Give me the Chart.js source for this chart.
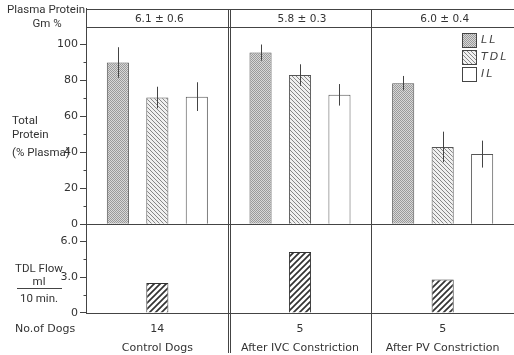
<!DOCTYPE html>
<html>
<head>
<meta charset="utf-8">
<script src="https://cdn.jsdelivr.net/npm/chart.js@4"></script>
<style>
  html, body { margin: 0; padding: 0; background: #fff; overflow: hidden; }
</style>
</head>
<body>
<canvas id="chart" width="514" height="355"></canvas>
<script>
// Data
const groups = ["Control Dogs", "After IVC Constriction", "After PV Constriction"];
const dogCounts = ["14", "5", "5"];
const plasmaProtein = ["6.1 ± 0.6", "5.8 ± 0.3", "6.0 ± 0.4"];

const llProtein = [90, 95.5, 78.5];
const llErr = [8.5, 4.5, 4];
const tdlProtein = [70.5, 83, 43];
const tdlErr = [6, 6, 8.5];
const ilProtein = [71, 72, 39];
const ilErr = [8, 6, 7.5];

const tdlFlow = [2.5, 5.1, 2.8];

const proteinTicks = [0, 10, 20, 30, 40, 50, 60, 70, 80, 90, 100];
const proteinLabelled = [0, 20, 40, 60, 80, 100];
const flowTicks = [0, 1.5, 3.0, 4.5, 6.0];
const flowLabelled = [0, 3.0, 6.0];

const proteinMax = 120;   // axis runs up through the plasma protein header band
const headerFloor = 109.5;
const flowMax = 7.42;

const ink = "#444";
const clear = "rgba(0,0,0,0)";
const tickFont = { family: "DejaVu Sans", size: 11 };

const canvas = document.getElementById("chart");
const ctx = canvas.getContext("2d");

// fill patterns
function makePattern(size, draw) {
  const c = document.createElement("canvas");
  c.width = size;
  c.height = size;
  draw(c.getContext("2d"), size);
  return ctx.createPattern(c, "repeat");
}

const llFill = makePattern(2, (g) => {
  g.fillStyle = "#d8d8d8";
  g.fillRect(0, 0, 2, 2);
  g.fillStyle = "#9a9a9a";
  g.fillRect(0, 0, 1, 1);
  g.fillRect(1, 1, 1, 1);
});

const tdlFill = makePattern(4, (g, s) => {
  g.fillStyle = "#f0f0f0";
  g.fillRect(0, 0, s, s);
  g.strokeStyle = "#7a7a7a";
  g.lineWidth = 0.9;
  g.beginPath();
  g.moveTo(-1, -1); g.lineTo(s + 1, s + 1);
  g.moveTo(-1, s - 1); g.lineTo(1, s + 1);
  g.moveTo(s - 1, -1); g.lineTo(s + 1, 1);
  g.stroke();
});

const flowFill = makePattern(6, (g, s) => {
  g.fillStyle = "#fff";
  g.fillRect(0, 0, s, s);
  g.strokeStyle = "#333";
  g.lineWidth = 1.7;
  g.beginPath();
  g.moveTo(-1, s + 1); g.lineTo(s + 1, -1);
  g.moveTo(-1, 1); g.lineTo(1, -1);
  g.moveTo(s - 1, s + 1); g.lineTo(s + 1, s - 1);
  g.stroke();
});

const legendItems = [
  { text: "LL", fill: llFill },
  { text: "TDL", fill: tdlFill },
  { text: "IL", fill: "#fff" },
];

// error bars, header band, panel separators, minor ticks, legend and side labels
const overlay = {
  id: "overlay",
  afterDatasetsDraw(chart) {
    const { ctx, chartArea, scales } = chart;
    const x = scales.x;
    const y = scales.y;
    const right = chart.width;
    ctx.save();
    ctx.strokeStyle = ink;
    ctx.lineWidth = 1;

    // error bars
    [llErr, tdlErr, ilErr].forEach((errs, d) => {
      const meta = chart.getDatasetMeta(d);
      const vals = chart.data.datasets[d].data;
      meta.data.forEach((bar, i) => {
        const px = Math.round(bar.x) + 0.5;
        ctx.beginPath();
        ctx.moveTo(px, y.getPixelForValue(vals[i] + errs[i]));
        ctx.lineTo(px, y.getPixelForValue(vals[i] - errs[i]));
        ctx.stroke();
      });
    });

    // short minor ticks
    const axisX = Math.round(chartArea.left) + 0.5;
    [[y, proteinTicks, proteinLabelled], [scales.yFlow, flowTicks, flowLabelled]].forEach(([s, all, major]) => {
      all.filter((v) => !major.includes(v)).forEach((v) => {
        const py = Math.round(s.getPixelForValue(v)) + 0.5;
        ctx.beginPath();
        ctx.moveTo(axisX - 3, py);
        ctx.lineTo(axisX, py);
        ctx.stroke();
      });
    });

    // header band lines
    const top = Math.round(chartArea.top) + 0.5;
    const headBottom = Math.round(y.getPixelForValue(headerFloor)) + 0.5;
    ctx.beginPath();
    ctx.moveTo(chartArea.left, top); ctx.lineTo(right, top);
    ctx.moveTo(chartArea.left, headBottom); ctx.lineTo(right, headBottom);
    ctx.stroke();

    // panel separators
    for (let i = 0; i < groups.length - 1; i++) {
      const mid = (x.getPixelForValue(i) + x.getPixelForValue(i + 1)) / 2;
      const offs = i === 0 ? [-1, 1] : [0];
      offs.forEach((o) => {
        const sx = Math.round(mid + o) + 0.5;
        ctx.beginPath();
        ctx.moveTo(sx, top);
        ctx.lineTo(sx, chart.height - 2);
        ctx.stroke();
      });
    }

    // header values
    ctx.fillStyle = "#333";
    ctx.font = "10.5px 'DejaVu Sans'";
    ctx.textAlign = "center";
    ctx.textBaseline = "middle";
    plasmaProtein.forEach((t, i) => {
      ctx.fillText(t, x.getPixelForValue(i) + 2, (top + headBottom) / 2 + 0.5);
    });

    // legend
    legendItems.forEach((item, i) => {
      const ly = 33 + i * 17;
      ctx.fillStyle = item.fill;
      ctx.fillRect(462, ly, 14, 14);
      ctx.strokeRect(462.5, ly + 0.5, 14, 14);
      ctx.fillStyle = "#444";
      ctx.font = "italic 11px 'DejaVu Sans'";
      ctx.textAlign = "left";
      ctx.letterSpacing = "2px";
      ctx.fillText(item.text, 481, ly + 7.5);
      ctx.letterSpacing = "0px";
    });

    // side labels
    ctx.fillStyle = "#333";
    ctx.textAlign = "left";
    ctx.font = "11.5px Roboto";
    ctx.fillText("Plasma Protein", 7, 10);
    ctx.textAlign = "center";
    ctx.fillText("Gm %", 47, 24);

    ctx.textAlign = "left";
    ctx.font = "11.5px Roboto";
    ctx.fillText("Total", 12, 121);
    ctx.fillText("Protein", 12, 135);
    ctx.fillText("(% Plasma)", 12, 153);

    ctx.textAlign = "center";
    ctx.fillText("TDL Flow", 39, 269);
    ctx.fillText("ml", 39, 282);
    ctx.fillText("10 min.", 39, 299);
    ctx.beginPath();
    ctx.moveTo(17, 288.5); ctx.lineTo(62, 288.5);
    ctx.stroke();

    ctx.textAlign = "left";
    ctx.font = "11px 'DejaVu Sans'";
    ctx.fillText("No.of Dogs", 15, 329);

    ctx.restore();
  },
};

const barCommon = {
  borderColor: "#555",
  borderWidth: 1,
  borderSkipped: "start",
  categoryPercentage: 0.83,
  barPercentage: 0.56,
};

new Chart(ctx, {
  type: "bar",
  data: {
    labels: groups.map((g, i) => [dogCounts[i], g]),
    datasets: [
      { label: "LL", data: llProtein, yAxisID: "y", stack: "ll", backgroundColor: llFill, ...barCommon },
      { label: "TDL", data: tdlProtein, yAxisID: "y", stack: "tdl", backgroundColor: tdlFill, ...barCommon },
      { label: "IL", data: ilProtein, yAxisID: "y", stack: "il", backgroundColor: "#fff", ...barCommon },
      { label: "TDL Flow", data: tdlFlow, yAxisID: "yFlow", stack: "tdl", backgroundColor: flowFill, ...barCommon, borderColor: "#333" },
    ],
  },
  options: {
    responsive: false,
    animation: false,
    devicePixelRatio: 1,
    layout: { padding: { top: 8, right: 0, bottom: 0, left: 0 } },
    plugins: { legend: { display: false }, tooltip: { enabled: false } },
    scales: {
      x: {
        offset: true,
        grid: { display: false, drawTicks: false },
        border: { color: ink },
        ticks: { color: "#333", font: { family: "DejaVu Sans", size: 11, lineHeight: 1.7 }, padding: 7, maxRotation: 0 },
        afterFit: (s) => { s.height = 42; },
      },
      yFlow: {
        position: "left",
        stack: "rows",
        stackWeight: 89,
        stacked: false,
        min: 0,
        max: flowMax,
        afterBuildTicks: (s) => { s.ticks = flowTicks.map((v) => ({ value: v })); },
        ticks: {
          autoSkip: false, color: "#333", font: tickFont, padding: 2,
          callback: (v) => (!flowLabelled.includes(v) ? "" : v === 0 ? "0" : v.toFixed(1)),
        },
        grid: {
          drawOnChartArea: false,
          tickColor: (c) => (c.tick && flowLabelled.includes(c.tick.value) ? ink : clear),
          tickLength: 6,
        },
        border: { color: ink },
        afterFit: (s) => { s.width = 86; },
      },
      y: {
        position: "left",
        stack: "rows",
        stackWeight: 216,
        stacked: false,
        min: 0,
        max: proteinMax,
        afterBuildTicks: (s) => { s.ticks = proteinTicks.map((v) => ({ value: v })); },
        ticks: {
          autoSkip: false, color: "#333", font: tickFont, padding: 2,
          callback: (v) => (proteinLabelled.includes(v) ? String(v) : ""),
        },
        grid: {
          drawOnChartArea: true,
          color: (c) => (c.tick && c.tick.value === 0 ? ink : clear),
          tickColor: (c) => (c.tick && proteinLabelled.includes(c.tick.value) ? ink : clear),
          tickLength: 6,
        },
        border: { color: ink },
        afterFit: (s) => { s.width = 86; },
      },
    },
  },
  plugins: [overlay],
});
</script>
</body>
</html>
